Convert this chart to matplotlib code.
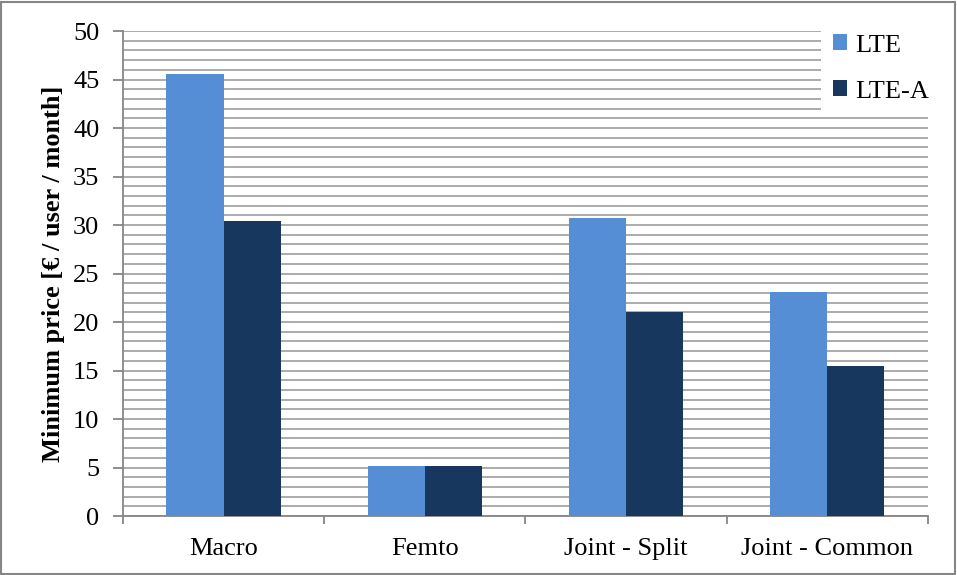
import matplotlib
matplotlib.use("Agg")
import matplotlib.pyplot as plt
import numpy as np
from matplotlib.patches import Rectangle

categories = ["Macro", "Femto", "Joint - Split", "Joint - Common"]
lte = [45.6, 5.2, 30.7, 23.1]
lte_a = [30.4, 5.2, 21.0, 15.5]
series_names = ["LTE", "LTE-A"]

plt.rcParams['font.family'] = ['Liberation Serif', 'DejaVu Serif']

fig = plt.figure(figsize=(9.57, 5.75), dpi=100)
ax = fig.add_axes([0.1285, 0.1026, 0.841, 0.8434])

x = np.arange(len(categories))
w = 0.284
ax.bar(x - w/2, lte, w, color="#558ED5", label=series_names[0], zorder=3)
ax.bar(x + w/2, lte_a, w, color="#17375E", label=series_names[1], zorder=3)

ax.set_xlim(-0.5, len(categories) - 0.5)
ax.set_ylim(0, 50)
ax.set_yticks(np.arange(0, 51, 5))
ax.set_yticks(np.arange(0, 51, 1), minor=True)
ax.grid(axis='y', which='both', color='#ababab', linewidth=1.4, zorder=0)
ax.set_axisbelow(True)
ax.tick_params(axis='y', which='minor', length=0)
ax.tick_params(axis='y', which='major', length=7, width=1.3, color='#868686',
               labelsize=19, direction='out', pad=10)

ax.set_xticks(x)
ax.set_xticklabels(categories, fontsize=19)
ax.tick_params(axis='x', which='major', length=0, pad=16)
ax.set_xticks(np.arange(-0.5, len(categories) + 0.5, 1), minor=True)
ax.tick_params(axis='x', which='minor', length=6, width=1.3, color='#868686', direction='out')

for s in ['top', 'right']:
    ax.spines[s].set_visible(False)
for s in ['left', 'bottom']:
    ax.spines[s].set_color('#868686')
    ax.spines[s].set_linewidth(1.3)

ax.set_ylabel("Minimum price [€ / user / month]", fontsize=19, fontweight='bold', labelpad=6)

leg = ax.legend(loc='lower left', bbox_to_anchor=(0.867, 0.828), fontsize=19,
                frameon=True, fancybox=False, edgecolor='none', facecolor='white',
                framealpha=1, handlelength=0.55, handleheight=0.55, handletextpad=0.3,
                labelspacing=0.9, borderpad=0.45, borderaxespad=0)
leg.set_zorder(5)

fig.patches.append(Rectangle((0.001, 0.001), 0.997, 0.995, transform=fig.transFigure,
                             fill=False, edgecolor='#868686', linewidth=1.5))

fig.savefig("out.png", dpi=100)
